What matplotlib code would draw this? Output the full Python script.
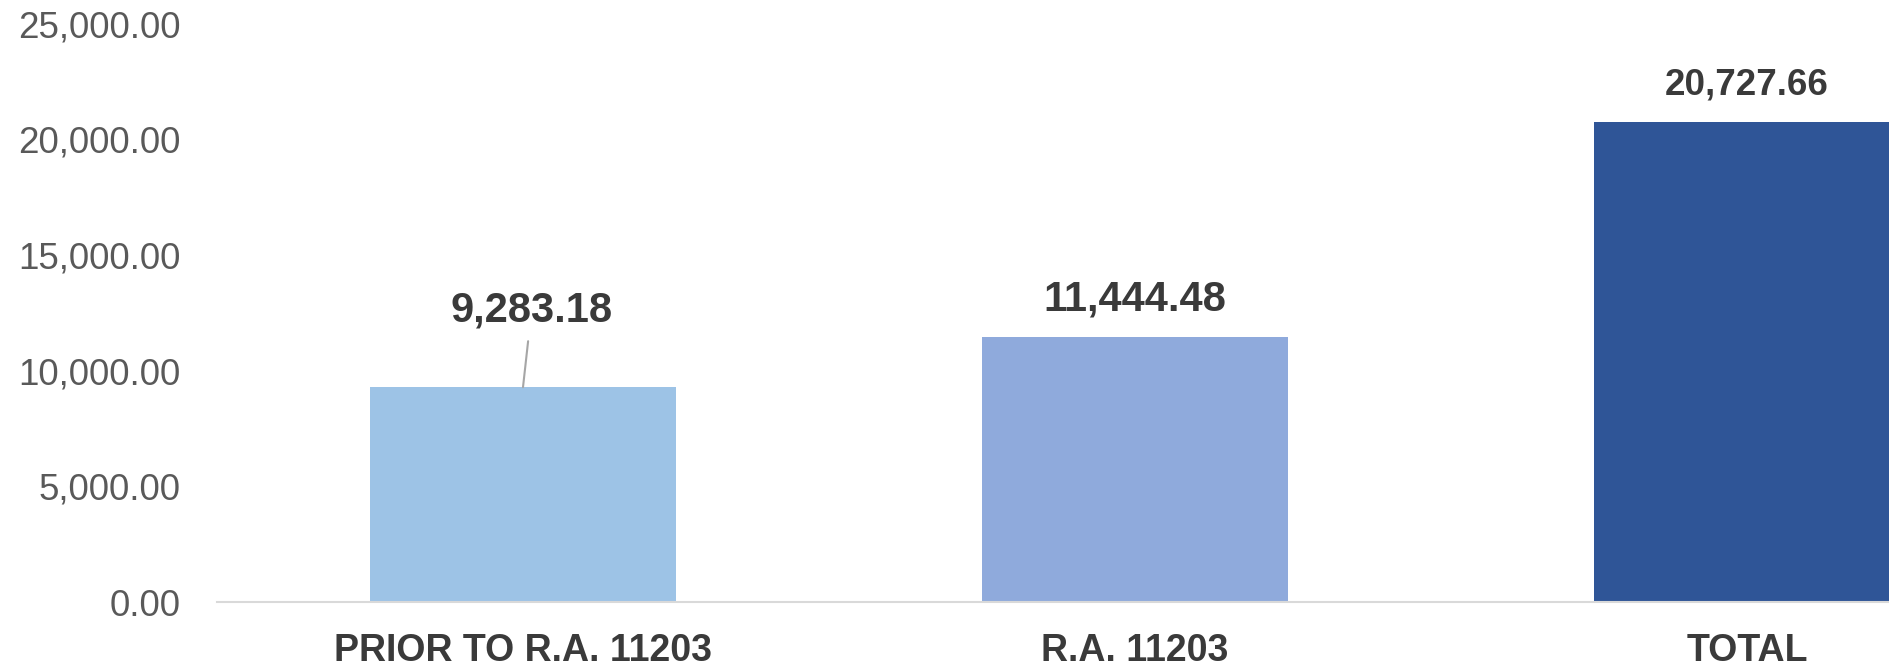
import matplotlib
matplotlib.use("Agg")
import matplotlib.pyplot as plt
from matplotlib import font_manager as fm

categories = ["PRIOR TO R.A. 11203", "R.A. 11203", "TOTAL"]
values = [9283.18, 11444.48, 20727.66]
bar_colors = ["#9DC3E6", "#8FAADC", "#2F5597"]
yticks = [0, 5000, 10000, 15000, 20000, 25000]

names = {f.name for f in fm.fontManager.ttflist}
narrow = "Liberation Sans Narrow" if "Liberation Sans Narrow" in names else "Liberation Sans"

plt.rcParams['font.family'] = ['Liberation Sans', 'DejaVu Sans']

fig = plt.figure(figsize=(18.89, 6.69), dpi=100)
ax = fig.add_axes([217/1889, 67/669, 1836/1889, 578.5/669])

x = list(range(len(categories)))
ax.bar(x, values, width=0.5, color=bar_colors, zorder=2)
ax.set_xlim(-0.5, 2.5)
ax.set_ylim(0, 25000)

ax.set_yticks(yticks)
ax.set_yticklabels([f"{v:,.2f}" for v in yticks], fontsize=26.5, color="#595959")
ax.tick_params(axis='y', length=0, pad=26)
ax.set_xticks(x)
ax.set_xticklabels(categories, fontsize=27, fontweight='bold', color="#3A3A3A",
                   family=[narrow, 'DejaVu Sans'])
ax.tick_params(axis='x', length=0, pad=22)

for s in ['top', 'right', 'left']:
    ax.spines[s].set_visible(False)
ax.spines['bottom'].set_color("#D9D9D9")
ax.spines['bottom'].set_linewidth(1.5)

label_sizes = [30, 30, 26.5]
for i, v in enumerate(values):
    label = f"{v:,.2f}"
    if i == 0:
        ax.annotate(label, xy=(i, v), xytext=(i + 0.014, v + 3330),
                    textcoords='data', ha='center', va='center',
                    fontsize=label_sizes[i], fontweight='bold', color="#3A3A3A",
                    arrowprops=dict(arrowstyle='-', color='#A6A6A6', lw=1.5,
                                    shrinkA=6, shrinkB=0))
    else:
        ax.annotate(label, xy=(i, v), xytext=(0, 27), textcoords='offset points',
                    ha='center', va='center', fontsize=label_sizes[i],
                    fontweight='bold', color="#3A3A3A")

fig.savefig("out.png", dpi=100)
